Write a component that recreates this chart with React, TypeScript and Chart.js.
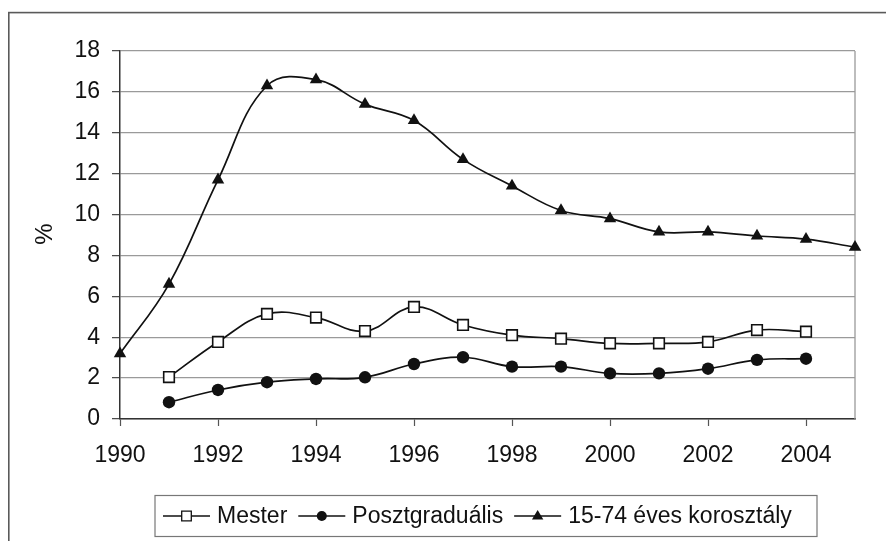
import React, { useEffect, useRef } from 'react';
import { Chart, registerables } from 'chart.js';

Chart.register(...registerables);

// ---- Data ----
const allYears = [1990, 1991, 1992, 1993, 1994, 1995, 1996, 1997, 1998, 1999, 2000, 2001, 2002, 2003, 2004, 2005];
const subYears = [1991, 1992, 1993, 1994, 1995, 1996, 1997, 1998, 1999, 2000, 2001, 2002, 2003, 2004];
const mester = [2.05, 3.77, 5.14, 4.96, 4.3, 5.48, 4.6, 4.1, 3.93, 3.7, 3.7, 3.77, 4.35, 4.27];
const posztgradualis = [0.82, 1.42, 1.8, 1.96, 2.04, 2.69, 3.02, 2.56, 2.56, 2.23, 2.23, 2.46, 2.89, 2.95];
const korosztaly = [3.2, 6.6, 11.7, 16.3, 16.6, 15.4, 14.6, 12.7, 11.4, 10.2, 9.8, 9.15, 9.15, 8.95, 8.8, 8.4];
const xTickValues = [1990, 1992, 1994, 1996, 1998, 2000, 2002, 2004];
const seriesNames = ['Mester', 'Posztgraduális', '15-74 éves korosztály'];
const yTitle = '%';
const X_MIN = 1990;
const X_MAX = 2005;
const Y_MIN = 0;
const Y_MAX = 18;
const Y_STEP = 2;

const FONT = '"Liberation Sans", Arial, sans-serif';
const INK = '#111111';

function drawMarker(ctx: CanvasRenderingContext2D, style: string, x: number, y: number, r: number) {
  ctx.save();
  ctx.lineWidth = 1.3;
  ctx.strokeStyle = INK;
  ctx.fillStyle = INK;
  ctx.beginPath();
  if (style === 'rect') {
    ctx.fillStyle = '#ffffff';
    ctx.rect(x - r, y - r, 2 * r, 2 * r);
    ctx.fill();
    ctx.stroke();
  } else if (style === 'circle') {
    ctx.arc(x, y, r, 0, Math.PI * 2);
    ctx.fill();
  } else {
    ctx.moveTo(x, y - r);
    ctx.lineTo(x + r * 0.95, y + r * 0.6);
    ctx.lineTo(x - r * 0.95, y + r * 0.6);
    ctx.closePath();
    ctx.fill();
  }
  ctx.restore();
}

const framePlugin = {
  id: 'frame',
  beforeDraw(chart: any) {
    const ctx = chart.ctx as CanvasRenderingContext2D;
    ctx.save();
    ctx.strokeStyle = '#5a5a5a';
    ctx.lineWidth = 1.6;
    ctx.strokeRect(8.8, 12.6, 1200, 1200);
    ctx.restore();
  },
  beforeDatasetsDraw(chart: any) {
    const { ctx, chartArea } = chart;
    ctx.save();
    ctx.strokeStyle = '#9a9a9a';
    ctx.lineWidth = 1.3;
    ctx.beginPath();
    ctx.moveTo(chartArea.right, chartArea.top);
    ctx.lineTo(chartArea.right, chartArea.bottom);
    ctx.stroke();
    ctx.restore();
  },
  afterDraw(chart: any) {
    const ctx = chart.ctx as CanvasRenderingContext2D;
    // y title
    ctx.save();
    ctx.translate(45, 234);
    ctx.rotate(-Math.PI / 2);
    ctx.fillStyle = INK;
    ctx.font = `24px ${FONT}`;
    ctx.textAlign = 'center';
    ctx.textBaseline = 'middle';
    ctx.fillText(yTitle, 0, 0);
    ctx.restore();

    // legend
    const boxL = 155, boxT = 495.5, boxW = 662, boxH = 41;
    ctx.save();
    ctx.strokeStyle = '#777777';
    ctx.lineWidth = 1.2;
    ctx.strokeRect(boxL, boxT, boxW, boxH);
    ctx.font = `23px ${FONT}`;
    ctx.textBaseline = 'middle';
    ctx.textAlign = 'left';
    const cy = boxT + boxH / 2;
    let x = boxL + 8;
    const styles = ['rect', 'circle', 'triangle'];
    const sizes = [4.8, 5, 6];
    chart.data.datasets.forEach((ds: any, i: number) => {
      ctx.strokeStyle = INK;
      ctx.lineWidth = 1.5;
      ctx.beginPath();
      ctx.moveTo(x, cy);
      ctx.lineTo(x + 47, cy);
      ctx.stroke();
      drawMarker(ctx, styles[i], x + 23.5, cy, sizes[i]);
      ctx.fillStyle = INK;
      ctx.fillText(ds.label, x + 54, cy + 1);
      const w = ctx.measureText(ds.label).width;
      x = x + 54 + w + 11;
    });
    ctx.restore();
  },
};

export default function App() {
  const canvasRef = useRef<HTMLCanvasElement | null>(null);

  useEffect(() => {
    document.body.style.margin = '0';
    const canvas = canvasRef.current;
    if (!canvas) return;
    const chart = new Chart(canvas, {
      type: 'line',
      data: {
        datasets: [
          {
            label: seriesNames[0],
            data: subYears.map((y, i) => ({ x: y, y: mester[i] })),
            borderColor: INK,
            borderWidth: 1.7,
            backgroundColor: '#ffffff',
            pointStyle: 'rect',
            pointRadius: 7.5,
            pointBorderWidth: 1.6,
            pointBorderColor: INK,
            pointBackgroundColor: '#ffffff',
            tension: 0.4,
            clip: false,
          },
          {
            label: seriesNames[1],
            data: subYears.map((y, i) => ({ x: y, y: posztgradualis[i] })),
            borderColor: INK,
            borderWidth: 1.7,
            backgroundColor: INK,
            pointStyle: 'circle',
            pointRadius: 6.2,
            pointBorderWidth: 0,
            pointBackgroundColor: INK,
            tension: 0.4,
            clip: false,
          },
          {
            label: seriesNames[2],
            data: allYears.map((y, i) => ({ x: y, y: korosztaly[i] })),
            borderColor: INK,
            borderWidth: 1.7,
            backgroundColor: INK,
            pointStyle: 'triangle',
            pointRadius: 7.2,
            pointBorderWidth: 0,
            pointBackgroundColor: INK,
            tension: 0.4,
            clip: false,
          },
        ],
      },
      options: {
        responsive: false,
        animation: false,
        events: [],
        layout: { padding: { left: 0, top: 51, right: 31, bottom: 0 } },
        plugins: {
          legend: { display: false },
          tooltip: { enabled: false },
          title: { display: false },
        },
        scales: {
          x: {
            type: 'linear',
            min: X_MIN,
            max: X_MAX,
            afterBuildTicks: (scale: any) => {
              scale.ticks = xTickValues.map((v) => ({ value: v }));
            },
            afterFit: (scale: any) => {
              scale.height = 122;
            },
            ticks: {
              autoSkip: false,
              maxRotation: 0,
              padding: 16,
              color: INK,
              font: { family: FONT, size: 23 },
              callback: (v: any) => String(v),
            },
            grid: {
              drawOnChartArea: false,
              drawTicks: true,
              tickLength: 7,
              tickColor: '#555555',
              tickWidth: 1.2,
            },
            border: { display: true, color: '#333333', width: 1.5 },
          },
          y: {
            type: 'linear',
            min: Y_MIN,
            max: Y_MAX,
            afterFit: (scale: any) => {
              scale.width = 120;
            },
            ticks: {
              stepSize: Y_STEP,
              padding: 12,
              color: INK,
              font: { family: FONT, size: 23 },
              callback: (v: any) => String(v),
            },
            grid: {
              color: '#9a9a9a',
              lineWidth: 1.3,
              drawTicks: true,
              tickLength: 8,
              tickColor: '#444444',
              tickWidth: 1.2,
            },
            border: { display: true, color: '#333333', width: 1.5 },
          },
        },
      },
      plugins: [framePlugin],
    });
    return () => chart.destroy();
  }, []);

  return (
    <div style={{ width: 886, height: 541, position: 'relative', background: '#ffffff' }}>
      <canvas ref={canvasRef} width={886} height={541} style={{ display: 'block' }} />
    </div>
  );
}
